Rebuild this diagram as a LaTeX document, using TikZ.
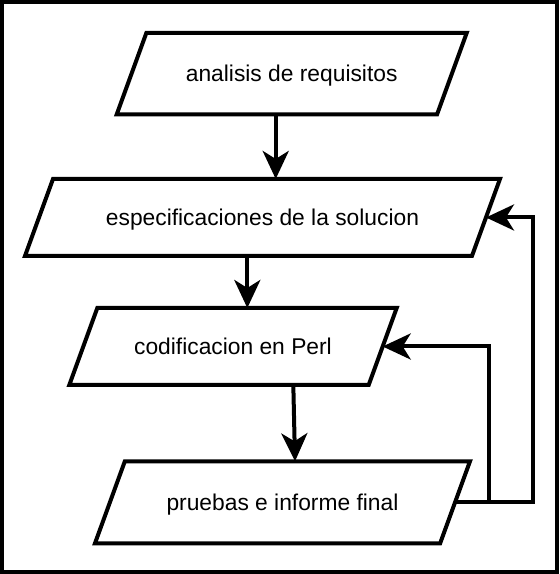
\documentclass[tikz,border=0pt]{standalone}
\usepackage{fontspec}
\setmainfont{Liberation Sans}
\usetikzlibrary{positioning,shapes.geometric,arrows.meta}

\begin{document}
\begin{tikzpicture}[
    x=1pt, y=1pt,
    datos/.style={draw, line width=4pt, trapezium, trapezium left angle=70,
        trapezium right angle=110, trapezium stretches body=true,
        inner xsep=0pt, outer sep=0pt, text height=18.5pt, text depth=2.5pt,
        font=\fontsize{22.8}{26}\selectfont},
    flecha/.style={line width=4pt, -{Stealth[length=28pt, width=26pt, inset=8pt]}}
    ]
    \useasboundingbox (0,0) rectangle (560,-574);
    \draw [line width=4pt] (2,-2) rectangle (557,-572);
    \node [datos, minimum width=350pt, inner ysep=30.25pt] (a) at (291.7,-73.7) {analisis de requisitos};
    \node [datos, minimum width=475pt, inner ysep=28pt, below=64.5pt of a, xshift=-29.2pt] (b) {especificaciones de la solucion};
    \node [datos, minimum width=327.4pt, inner ysep=28pt, below=52pt of b, xshift=-29.5pt] (c) {codificacion en Perl};
    \node [datos, minimum width=375pt, inner ysep=30.5pt, below=76.3pt of c, xshift=49.5pt] (d) {pruebas e informe final};
    \draw [flecha] ([xshift=-16pt]a.south) -- ([xshift=13.2pt]b.north);
    \draw [flecha] ([xshift=-15.2pt]b.south) -- ([xshift=14.3pt]c.north);
    \draw [flecha] ([xshift=60.3pt]c.south) -- ([xshift=12.5pt]d.north);
    % vuelta atras desde las pruebas
    \draw [flecha] (d.east) -- ++(77.6,0) |- (b.east);
    \draw [flecha] (d.east) -- ++(33.6,0) |- (c.east);
\end{tikzpicture}
\end{document}
